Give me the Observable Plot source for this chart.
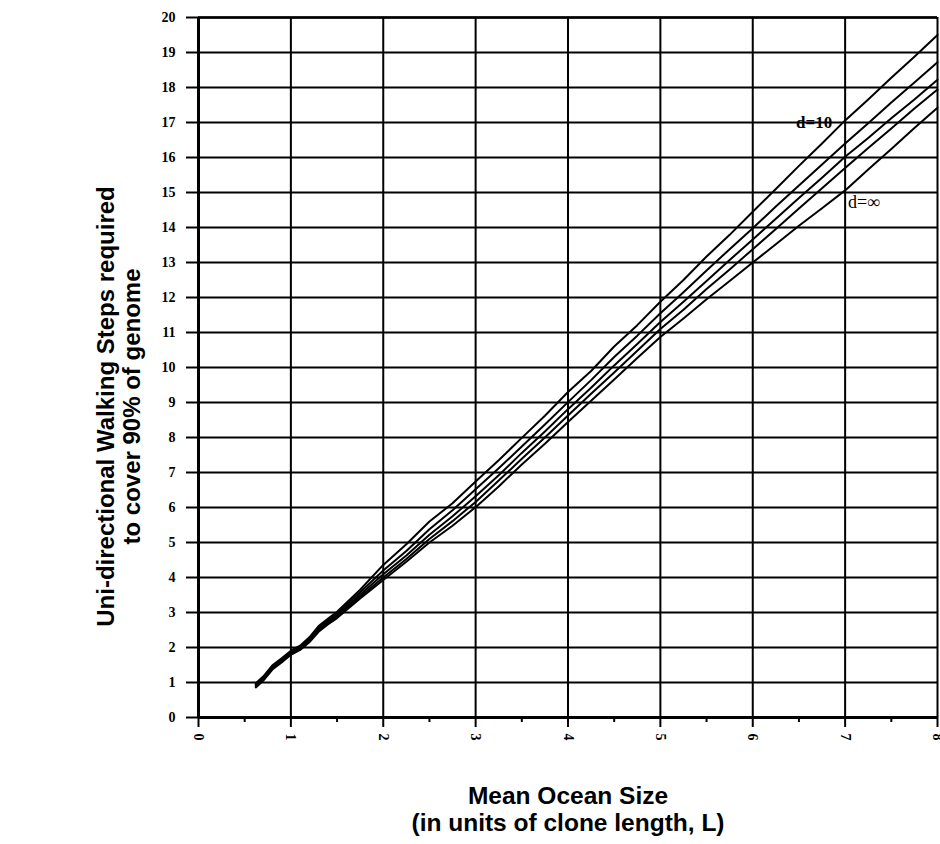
<!DOCTYPE html>
<html>
<head>
<meta charset="utf-8">
<script src="https://cdn.jsdelivr.net/npm/d3@7"></script>
<script src="https://cdn.jsdelivr.net/npm/@observablehq/plot@0.6"></script>
<style>
  html, body { margin: 0; padding: 0; background: #fff; }
  #chart { width: 940px; height: 844px; }
</style>
</head>
<body>
<div id="chart"></div>
<script>
// Mean ocean size (in clone lengths) at which each curve was sampled
const oceanSize = [0.62, 0.7, 0.8, 0.9, 1.0, 1.1, 1.2, 1.3, 1.4, 1.5,
  1.75, 2.0, 2.25, 2.5, 2.75, 3.0, 3.25, 3.5, 3.75, 4.0, 4.25, 4.5, 4.75,
  5.0, 5.25, 5.5, 5.75, 6.0, 6.25, 6.5, 6.75, 7.0, 7.25, 7.5, 7.75, 8.0];

// Walking steps needed to cover 90% of the genome, one series per d
const stepsD10 = [0.98, 1.17, 1.49, 1.69, 1.91, 2.05, 2.29, 2.61, 2.82, 3.02,
  3.65, 4.36, 4.95, 5.6, 6.12, 6.74, 7.35, 7.99, 8.62, 9.3, 9.9, 10.6, 11.21,
  11.88, 12.5, 13.17, 13.79, 14.45, 15.1, 15.76, 16.4, 17.06, 17.66, 18.28, 18.88, 19.5];
const stepsD2 = [0.95, 1.14, 1.46, 1.66, 1.88, 2.02, 2.25, 2.57, 2.78, 2.97,
  3.58, 4.2, 4.76, 5.38, 5.92, 6.52, 7.12, 7.74, 8.37, 9.01, 9.64, 10.3, 10.91,
  11.55, 12.15, 12.77, 13.38, 13.98, 14.6, 15.2, 15.8, 16.4, 16.98, 17.57, 18.14, 18.72];
const stepsD3 = [0.92, 1.11, 1.43, 1.63, 1.85, 1.99, 2.21, 2.53, 2.74, 2.92,
  3.51, 4.09, 4.63, 5.22, 5.75, 6.32, 6.92, 7.56, 8.17, 8.81, 9.42, 10.06, 10.67,
  11.3, 11.88, 12.47, 13.07, 13.66, 14.25, 14.84, 15.42, 16.02, 16.56, 17.12, 17.66, 18.22];
const stepsD4 = [0.89, 1.08, 1.4, 1.6, 1.82, 1.96, 2.18, 2.49, 2.7, 2.88,
  3.45, 4.0, 4.53, 5.1, 5.61, 6.16, 6.77, 7.39, 8.0, 8.63, 9.25, 9.86, 10.48,
  11.1, 11.65, 12.24, 12.8, 13.38, 13.96, 14.54, 15.12, 15.7, 16.27, 16.83, 17.4, 17.94];
const stepsDInf = [0.86, 1.05, 1.37, 1.57, 1.79, 1.93, 2.15, 2.45, 2.66, 2.84,
  3.4, 3.93, 4.45, 5.0, 5.48, 6.01, 6.6, 7.23, 7.82, 8.44, 9.05, 9.66, 10.27,
  10.87, 11.4, 11.95, 12.47, 13.0, 13.52, 14.05, 14.55, 15.06, 15.66, 16.24, 16.84, 17.42];

const seriesNames = ["d=10", "d2", "d3", "d4", "d=∞"];
const seriesSteps = [stepsD10, stepsD2, stepsD3, stepsD4, stepsDInf];

// Axis ticks
const xTicks = [0, 1, 2, 3, 4, 5, 6, 7, 8];
const xMinorTicks = [0.5, 1.5, 2.5, 3.5, 4.5, 5.5, 6.5, 7.5];
const yTicks = d3.range(0, 21);

// Curve labels
const curveLabels = [
  {text: "d=10", x: 6.86, y: 17.0, weight: "bold", anchor: "end", size: 17},
  {text: "d=∞", x: 7.03, y: 14.72, weight: "normal", anchor: "start", size: 18}
];

const rows = seriesNames.flatMap((name, i) =>
  oceanSize.map((L, j) => ({series: name, L, steps: seriesSteps[i][j]})));

const serif = "'Liberation Serif', 'Times New Roman', serif";
const sans = "'Liberation Sans', Arial, Helvetica, sans-serif";

const chart = Plot.plot({
  width: 940,
  height: 844,
  marginLeft: 198,
  marginRight: 3,
  marginTop: 17,
  marginBottom: 127,
  x: {domain: [0, 8]},
  y: {domain: [0, 20]},
  style: {background: "#fff", color: "#000", fontFamily: serif},
  marks: [
    // horizontal grid
    Plot.ruleY(yTicks, {stroke: "#000", strokeWidth: 2}),
    // vertical grid
    Plot.ruleX(xTicks, {stroke: "#000", strokeWidth: 2}),
    // heavier left and bottom axis lines
    Plot.ruleX([0], {stroke: "#000", strokeWidth: 3}),
    Plot.ruleY([0], {stroke: "#000", strokeWidth: 3}),
    Plot.ruleY([20], {stroke: "#000", strokeWidth: 2.5}),
    Plot.axisY(yTicks, {
      tickSize: 12, tickPadding: 11, strokeWidth: 2,
      fontSize: 14, fontWeight: "bold", fontFamily: serif, label: null
    }),
    Plot.axisX(xTicks, {
      tickSize: 10, tickPadding: 6, strokeWidth: 2, tickRotate: 90,
      fontSize: 14, fontWeight: "bold", fontFamily: serif, label: null
    }),
    Plot.axisX(xMinorTicks, {
      tickSize: 5, strokeWidth: 2, tickFormat: () => "", label: null
    }),
    // the five curves
    Plot.line(rows, {
      x: "L", y: "steps", z: "series",
      stroke: "#000", strokeWidth: 2, strokeLinejoin: "round", strokeLinecap: "round"
    }),
    // curve labels
    ...curveLabels.map(d => Plot.text([d], {
      x: "x", y: "y", text: "text", textAnchor: d.anchor,
      fontSize: d.size, fontWeight: d.weight, fontFamily: serif, fill: "#000"
    })),
    // axis titles
    Plot.text(["Uni-directional Walking Steps required\nto cover 90% of genome"], {
      frameAnchor: "left", textAnchor: "middle", lineAnchor: "middle",
      dx: -80, dy: 39, rotate: -90, lineHeight: 1.08,
      fontSize: 24, fontWeight: "bold", fontFamily: sans, fill: "#000"
    }),
    Plot.text(["Mean Ocean Size\n(in units of clone length, L)"], {
      frameAnchor: "bottom", textAnchor: "middle", lineAnchor: "middle",
      dy: 91, lineHeight: 1.12,
      fontSize: 24.5, fontWeight: "bold", fontFamily: sans, fill: "#000"
    })
  ]
});

document.getElementById("chart").appendChild(chart);
</script>
</body>
</html>
